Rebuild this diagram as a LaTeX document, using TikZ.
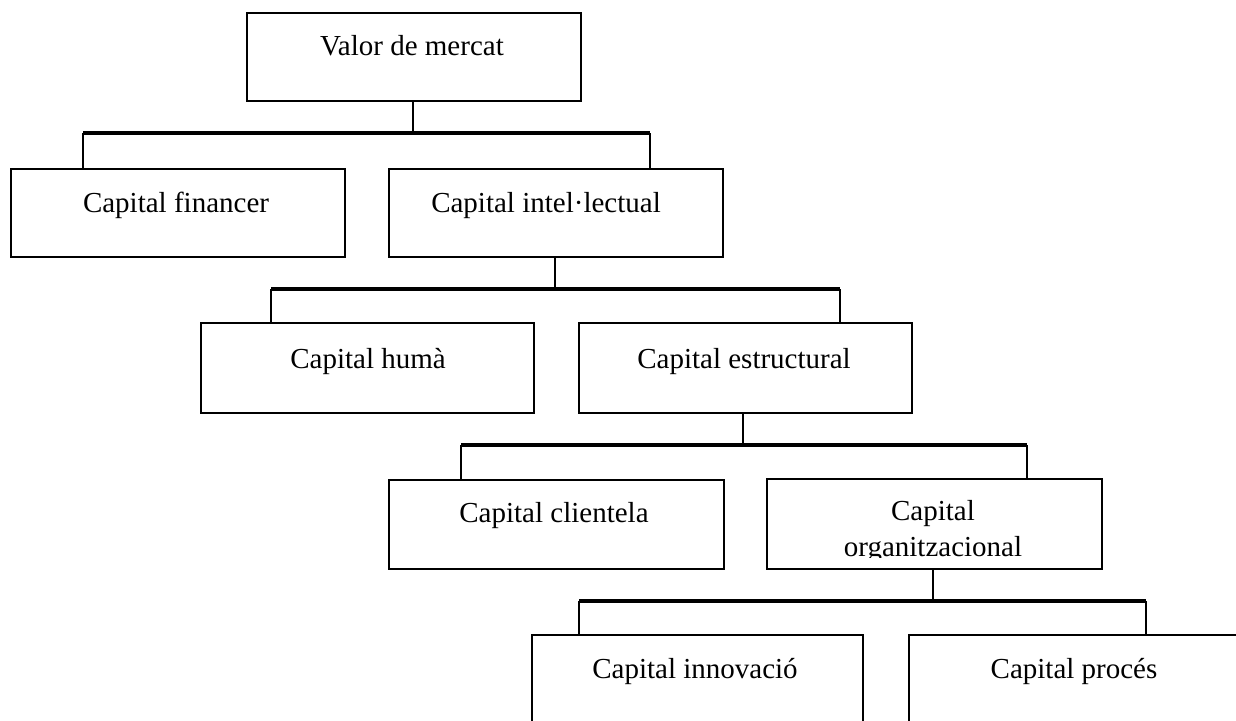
\documentclass[tikz,border=0pt]{standalone}
\usepackage{fontspec}
\setmainfont{Liberation Serif}
\begin{document}
\begin{tikzpicture}[x=1pt,y=-1pt,
  box/.style={draw, line width=1.3pt, rectangle, inner sep=0pt},
  lbl/.style={anchor=base, inner sep=0pt, font=\fontsize{29}{36}\selectfont},
  stem/.style={line width=1.3pt},
  bar/.style={line width=4.5pt}]
\useasboundingbox (0,0) rectangle (1236,720);
\clip (0,0) rectangle (1236,720);

% boxes
\node[box, minimum width=334pt, minimum height=88pt] (mv)    at (414,57)      {};
\node[box, minimum width=334pt, minimum height=88pt] (fin)   at (178,213)     {};
\node[box, minimum width=334pt, minimum height=88pt] (intel) at (556,213)     {};
\node[box, minimum width=333pt, minimum height=90pt] (huma)  at (367.5,368)   {};
\node[box, minimum width=333pt, minimum height=90pt] (estr)  at (745.5,368)   {};
\node[box, minimum width=335pt, minimum height=89pt] (cli)   at (556.5,524.5) {};
\node[box, minimum width=335pt, minimum height=90pt] (org)   at (934.5,524)   {};
\node[box, minimum width=331pt, minimum height=89pt] (inn)   at (697.5,679.5) {};
\node[box, minimum width=330pt, minimum height=89pt] (pro)   at (1074,679.5)  {};

% labels
\node[lbl] (tmv)    at (412,55)  {Valor de mercat};
\node[lbl] (tfin)   at (176,212) {Capital financer};
\node[lbl] (tintel) at (546,212) {Capital intel·lectual};
\node[lbl] (thuma)  at (368,368) {Capital humà};
\node[lbl] (testr)  at (744,368) {Capital estructural};
\node[lbl] (tcli)   at (554,522) {Capital clientela};
\node[lbl] (torg1)  at (933,520) {Capital};
\begin{scope}
  \clip (767,479) rectangle (1102,557);
  \node[lbl] (torg2) at (933,556) {organitzacional};
\end{scope}
\node[lbl] (tinn)   at (695,678) {Capital innovació};
\node[lbl] (tpro)   at (1074,678) {Capital procés};

% level 1
\coordinate (b1s) at (413,133);
\coordinate (b1l) at (83,133);
\coordinate (b1r) at (650,133);
\draw[stem] (b1s |- mv.south) -- (b1s);
\draw[bar] (b1l) -- (b1r);
\draw[stem] (b1l) -- (b1l |- fin.north);
\draw[stem] (b1r) -- (b1r |- intel.north);

% level 2
\coordinate (b2s) at (555,289);
\coordinate (b2l) at (271,289);
\coordinate (b2r) at (840,289);
\draw[stem] (b2s |- intel.south) -- (b2s);
\draw[bar] (b2l) -- (b2r);
\draw[stem] (b2l) -- (b2l |- huma.north);
\draw[stem] (b2r) -- (b2r |- estr.north);

% level 3
\coordinate (b3s) at (743,445);
\coordinate (b3l) at (461,445);
\coordinate (b3r) at (1027,445);
\draw[stem] (b3s |- estr.south) -- (b3s);
\draw[bar] (b3l) -- (b3r);
\draw[stem] (b3l) -- (b3l |- cli.north);
\draw[stem] (b3r) -- (b3r |- org.north);

% level 4
\coordinate (b4s) at (933,601);
\coordinate (b4l) at (579,601);
\coordinate (b4r) at (1146,601);
\draw[stem] (b4s |- org.south) -- (b4s);
\draw[bar] (b4l) -- (b4r);
\draw[stem] (b4l) -- (b4l |- inn.north);
\draw[stem] (b4r) -- (b4r |- pro.north);
\end{tikzpicture}
\end{document}
